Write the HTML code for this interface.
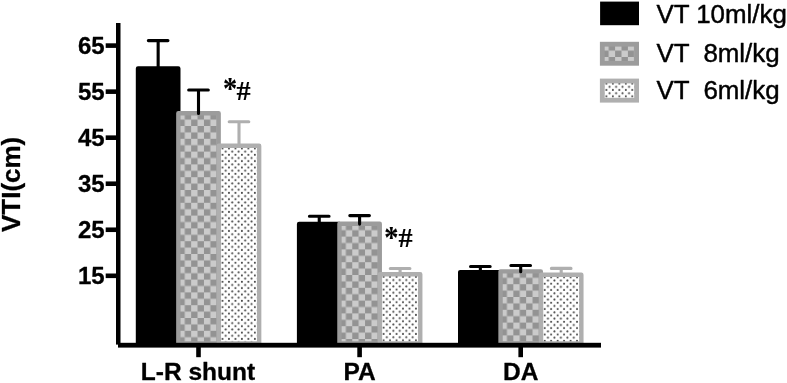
<!DOCTYPE html>
<html><head><meta charset="utf-8"><title>VTI chart</title>
<style>
html,body{margin:0;padding:0;background:#fff;}
svg{display:block;}
text{font-family:"Liberation Sans",sans-serif;fill:#000;stroke:#000;stroke-width:0.45px;stroke-linejoin:round;}
.b{font-weight:bold;stroke-width:0.3px;}
.s{font-family:"Liberation Serif",serif;font-weight:bold;stroke-width:0.12px;}
</style></head><body>
<svg width="787" height="383" viewBox="0 0 787 383">
<defs>
<pattern id="chk" patternUnits="userSpaceOnUse" x="0" y="0" width="12.8" height="12.8">
<rect width="12.8" height="12.8" fill="#cbcbcb"/><rect x="6.4" y="0" width="6.4" height="6.4" fill="#939393"/><rect x="0" y="6.4" width="6.4" height="6.4" fill="#939393"/>
</pattern>
<pattern id="dot" patternUnits="userSpaceOnUse" x="0" y="0" width="6.47" height="6.35">
<rect width="6.47" height="6.35" fill="#fff"/><circle cx="3.65" cy="2.7" r="1" fill="#444"/><circle cx="6.88" cy="5.87" r="1" fill="#444"/><circle cx="0.41" cy="5.87" r="1" fill="#444"/><circle cx="0.41" cy="-0.48" r="1" fill="#444"/><circle cx="6.88" cy="-0.48" r="1" fill="#444"/>
</pattern>
</defs>
<rect width="787" height="383" fill="#fff"/>

<rect x="138.00" y="68.50" width="40.30" height="275.00" fill="#000" stroke="#000" stroke-width="4.4" stroke-linejoin="round"/>
<g transform="translate(178.35,113.20)"><rect x="0" y="0" width="40.30" height="230.30" fill="url(#chk)" stroke="#9c9c9c" stroke-width="4.4" stroke-linejoin="round"/></g>
<g transform="translate(218.85,145.80)"><rect x="0" y="0" width="40.30" height="197.70" fill="url(#dot)" stroke="#afafaf" stroke-width="4.4" stroke-linejoin="round"/></g>
<path d="M148.35 40.60H167.95M158.15 40.60V68.50" stroke="#000" stroke-width="3.1" stroke-linecap="round" fill="none"/>
<path d="M188.70 90.00H208.30M198.50 90.00V113.50" stroke="#000" stroke-width="3.1" stroke-linecap="round" fill="none"/>
<path d="M229.20 121.70H248.80M239.00 121.70V144.80" stroke="#afafaf" stroke-width="3.1" stroke-linecap="round" fill="none"/>
<rect x="299.10" y="223.90" width="40.30" height="119.60" fill="#000" stroke="#000" stroke-width="4.4" stroke-linejoin="round"/>
<g transform="translate(339.45,223.80)"><rect x="0" y="0" width="40.30" height="119.70" fill="url(#chk)" stroke="#9c9c9c" stroke-width="4.4" stroke-linejoin="round"/></g>
<g transform="translate(379.95,274.20)"><rect x="0" y="0" width="40.30" height="69.30" fill="url(#dot)" stroke="#afafaf" stroke-width="4.4" stroke-linejoin="round"/></g>
<path d="M309.45 216.30H329.05M319.25 216.30V223.90" stroke="#000" stroke-width="3.1" stroke-linecap="round" fill="none"/>
<path d="M349.80 215.60H369.40M359.60 215.60V224.10" stroke="#000" stroke-width="3.1" stroke-linecap="round" fill="none"/>
<path d="M390.30 268.50H409.90M400.10 268.50V273.20" stroke="#afafaf" stroke-width="3.1" stroke-linecap="round" fill="none"/>
<rect x="460.20" y="272.10" width="40.30" height="71.40" fill="#000" stroke="#000" stroke-width="4.4" stroke-linejoin="round"/>
<g transform="translate(500.55,271.40)"><rect x="0" y="0" width="40.30" height="72.10" fill="url(#chk)" stroke="#9c9c9c" stroke-width="4.4" stroke-linejoin="round"/></g>
<g transform="translate(541.05,274.70)"><rect x="0" y="0" width="40.30" height="68.80" fill="url(#dot)" stroke="#afafaf" stroke-width="4.4" stroke-linejoin="round"/></g>
<path d="M470.55 266.50H490.15M480.35 266.50V272.10" stroke="#000" stroke-width="3.1" stroke-linecap="round" fill="none"/>
<path d="M510.90 265.50H530.50M520.70 265.50V271.70" stroke="#000" stroke-width="3.1" stroke-linecap="round" fill="none"/>
<path d="M551.40 268.40H571.00M561.20 268.40V273.70" stroke="#afafaf" stroke-width="3.1" stroke-linecap="round" fill="none"/>
<rect x="116" y="23" width="4.5" height="321.6" fill="#000"/>
<rect x="118" y="342.8" width="483" height="4.8" fill="#000"/>
<rect x="105.7" y="43.30" width="11" height="4.6" fill="#000"/>
<text class="b" x="104.6" y="54.20" font-size="24" text-anchor="end">65</text>
<rect x="105.7" y="89.34" width="11" height="4.6" fill="#000"/>
<text class="b" x="104.6" y="100.24" font-size="24" text-anchor="end">55</text>
<rect x="105.7" y="135.38" width="11" height="4.6" fill="#000"/>
<text class="b" x="104.6" y="146.28" font-size="24" text-anchor="end">45</text>
<rect x="105.7" y="181.42" width="11" height="4.6" fill="#000"/>
<text class="b" x="104.6" y="192.32" font-size="24" text-anchor="end">35</text>
<rect x="105.7" y="227.46" width="11" height="4.6" fill="#000"/>
<text class="b" x="104.6" y="238.36" font-size="24" text-anchor="end">25</text>
<rect x="105.7" y="273.50" width="11" height="4.6" fill="#000"/>
<text class="b" x="104.6" y="284.40" font-size="24" text-anchor="end">15</text>
<rect x="196.20" y="347" width="4.6" height="10.2" fill="#000"/>
<text class="b" x="198.00" y="380.4" font-size="24.5" text-anchor="middle">L-R shunt</text>
<rect x="357.30" y="347" width="4.6" height="10.2" fill="#000"/>
<text class="b" x="359.70" y="380.4" font-size="24.5" text-anchor="middle">PA</text>
<rect x="518.40" y="347" width="4.6" height="10.2" fill="#000"/>
<text class="b" x="520.80" y="380.4" font-size="24.5" text-anchor="middle">DA</text>
<text class="b" transform="translate(20.2,184.4) rotate(-90)" font-size="26" text-anchor="middle">VTI(cm)</text>
<text class="s" transform="translate(223.05,99.3) scale(0.9,1)" font-size="31.5">*</text><text class="s" x="236.45" y="99.7" font-size="28.2">#</text>
<text class="s" transform="translate(384.3,247.5) scale(0.9,1)" font-size="31.5">*</text><text class="s" x="398.5" y="247.2" font-size="28.2">#</text>
<rect x="600.1" y="1.6" width="38.9" height="23.6" fill="#000"/>
<g transform="translate(602.3,44.2)"><rect x="0" y="0" width="34.3" height="19.1" fill="url(#chk)" stroke="#9c9c9c" stroke-width="4.8" transform="translate(0,0)"/></g>
<g transform="translate(602.75,81.0)"><rect x="-0.45" y="0" width="34.3" height="19.2" fill="url(#dot)" stroke="#afafaf" stroke-width="4.8"/></g>
<text x="656.4" y="22.5" font-size="25.9" xml:space="preserve">VT 10ml/kg</text>
<text x="656.4" y="62.4" font-size="25.9" xml:space="preserve">VT  8ml/kg</text>
<text x="656.4" y="99.2" font-size="25.9" xml:space="preserve">VT  6ml/kg</text>
</svg></body></html>
